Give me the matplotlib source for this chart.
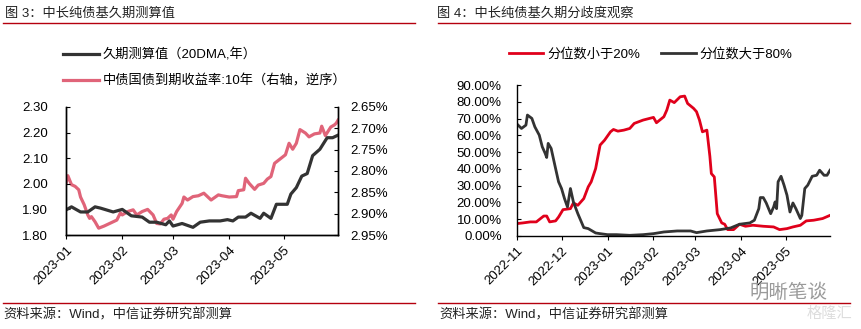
import numpy as np
import pandas as pd
import matplotlib
matplotlib.use("Agg")
import matplotlib.pyplot as plt
import matplotlib.dates as mdates
from matplotlib.lines import Line2D
from matplotlib.ticker import FuncFormatter

plt.rcParams['font.family'] = ['Liberation Sans', 'Noto Sans CJK SC', 'DejaVu Sans']

# ── Data ────────────────────────────────────────────────────
dur_dates = ["2023-01-01", "2023-01-04", "2023-01-09", "2023-01-13", "2023-01-17",
             "2023-01-20", "2023-01-27", "2023-02-01", "2023-02-06", "2023-02-12",
             "2023-02-16", "2023-02-20", "2023-02-25", "2023-02-27", "2023-03-01",
             "2023-03-06", "2023-03-12", "2023-03-16", "2023-03-21", "2023-03-27",
             "2023-03-31", "2023-04-03", "2023-04-06", "2023-04-10", "2023-04-13",
             "2023-04-18", "2023-04-20", "2023-04-24", "2023-04-27", "2023-05-03",
             "2023-05-05", "2023-05-08", "2023-05-11", "2023-05-14", "2023-05-17",
             "2023-05-21", "2023-05-25", "2023-05-28", "2023-05-31"]
dur_vals = [1.898, 1.91, 1.89, 1.89, 1.91, 1.905, 1.89, 1.90, 1.875, 1.87,
            1.85, 1.85, 1.84, 1.855, 1.835, 1.845, 1.83, 1.85, 1.855, 1.855,
            1.86, 1.855, 1.87, 1.87, 1.885, 1.865, 1.885, 1.865, 1.92, 1.92,
            1.96, 1.985, 2.03, 2.04, 2.11, 2.135, 2.18, 2.18, 2.19]

yld_dates = ["2023-01-01", "2023-01-02", "2023-01-04", "2023-01-06", "2023-01-08",
             "2023-01-09", "2023-01-11", "2023-01-13", "2023-01-14", "2023-01-15",
             "2023-01-17", "2023-01-19", "2023-01-22", "2023-01-25", "2023-01-29",
             "2023-01-31", "2023-02-01", "2023-02-04", "2023-02-07", "2023-02-09",
             "2023-02-12", "2023-02-15", "2023-02-18", "2023-02-20", "2023-02-22",
             "2023-02-24", "2023-02-26", "2023-02-28", "2023-03-01", "2023-03-03",
             "2023-03-06", "2023-03-07", "2023-03-09", "2023-03-12", "2023-03-15",
             "2023-03-18", "2023-03-22", "2023-03-26", "2023-03-28", "2023-04-01",
             "2023-04-05", "2023-04-06", "2023-04-09", "2023-04-10", "2023-04-12",
             "2023-04-15", "2023-04-17", "2023-04-20", "2023-04-22", "2023-04-24",
             "2023-04-26", "2023-04-29", "2023-05-02", "2023-05-04", "2023-05-06",
             "2023-05-08", "2023-05-10", "2023-05-13", "2023-05-15", "2023-05-18",
             "2023-05-21", "2023-05-22", "2023-05-24", "2023-05-27", "2023-05-29",
             "2023-05-30", "2023-05-31"]
yld_vals = [2.829, 2.811, 2.832, 2.836, 2.844, 2.861, 2.879, 2.903, 2.911, 2.907,
            2.919, 2.934, 2.929, 2.923, 2.915, 2.898, 2.903, 2.895, 2.891, 2.903,
            2.895, 2.890, 2.903, 2.923, 2.924, 2.913, 2.911, 2.903, 2.913, 2.895,
            2.876, 2.861, 2.868, 2.860, 2.858, 2.852, 2.868, 2.856, 2.858, 2.861,
            2.860, 2.846, 2.844, 2.817, 2.829, 2.843, 2.833, 2.829, 2.819, 2.813,
            2.782, 2.772, 2.762, 2.735, 2.749, 2.735, 2.703, 2.711, 2.720, 2.713,
            2.711, 2.695, 2.717, 2.697, 2.692, 2.688, 2.681]

hi_dates = ["2022-11-01", "2022-11-04", "2022-11-07", "2022-11-08", "2022-11-11",
            "2022-11-13", "2022-11-16", "2022-11-18", "2022-11-20", "2022-11-21",
            "2022-11-22", "2022-11-24", "2022-11-27", "2022-11-29", "2022-12-01",
            "2022-12-03", "2022-12-05", "2022-12-07", "2022-12-09", "2022-12-12",
            "2022-12-16", "2022-12-19", "2022-12-24", "2022-12-27", "2023-01-01",
            "2023-01-07", "2023-01-16", "2023-01-25", "2023-02-01", "2023-02-08",
            "2023-02-17", "2023-02-26", "2023-03-02", "2023-03-09", "2023-03-18",
            "2023-03-25", "2023-03-31", "2023-04-07", "2023-04-10", "2023-04-13",
            "2023-04-14", "2023-04-16", "2023-04-18", "2023-04-21", "2023-04-23",
            "2023-04-24", "2023-04-25", "2023-04-26", "2023-04-28", "2023-04-30",
            "2023-05-02", "2023-05-04", "2023-05-06", "2023-05-08", "2023-05-11",
            "2023-05-12", "2023-05-14", "2023-05-16", "2023-05-19", "2023-05-22",
            "2023-05-24", "2023-05-27", "2023-05-29", "2023-05-31"]
hi_vals = [66.7, 64.1, 66.1, 72.1, 70.1, 65.1, 60.1, 53.2, 49.2, 46.8,
           55.2, 52.2, 40.2, 32.3, 28.3, 22.3, 17.3, 28.3, 20.3, 13.3,
           5.0, 4.4, 1.8, 1.4, 0.8, 0.8, 0.4, 0.8, 1.4, 2.4,
           3.0, 3.0, 2.0, 3.0, 3.8, 4.8, 7.0, 7.8, 9.4, 16.3,
           22.9, 22.9, 19.7, 13.3, 17.3, 20.3, 16.3, 32.3, 35.6, 30.3,
           24.3, 14.3, 19.7, 16.3, 10.4, 12.3, 28.3, 30.3, 35.6, 36.2,
           39.2, 36.2, 36.2, 39.2]

lo_dates = ["2022-11-01", "2022-11-05", "2022-11-10", "2022-11-14", "2022-11-19",
            "2022-11-21", "2022-11-23", "2022-11-27", "2022-11-29", "2022-12-02",
            "2022-12-07", "2022-12-09", "2022-12-12", "2022-12-16", "2022-12-19",
            "2022-12-21", "2022-12-24", "2022-12-27", "2022-12-30", "2023-01-03",
            "2023-01-05", "2023-01-08", "2023-01-12", "2023-01-16", "2023-01-19",
            "2023-01-25", "2023-02-01", "2023-02-03", "2023-02-08", "2023-02-10",
            "2023-02-12", "2023-02-15", "2023-02-19", "2023-02-22", "2023-02-24",
            "2023-02-28", "2023-03-02", "2023-03-04", "2023-03-06", "2023-03-09",
            "2023-03-11", "2023-03-12", "2023-03-14", "2023-03-16", "2023-03-19",
            "2023-03-21", "2023-03-23", "2023-03-27", "2023-03-31", "2023-04-04",
            "2023-04-09", "2023-04-16", "2023-04-23", "2023-04-27", "2023-05-02",
            "2023-05-06", "2023-05-11", "2023-05-15", "2023-05-20", "2023-05-26",
            "2023-05-31"]
lo_vals = [7.4, 7.8, 8.4, 8.4, 11.9, 11.9, 8.4, 9.0, 11.3, 15.7,
           16.3, 19.7, 18.3, 22.3, 29.3, 32.3, 40.2, 54.2, 57.1, 62.1,
           63.5, 62.5, 63.1, 64.1, 67.1, 69.1, 70.7, 67.5, 71.1, 75.1,
           81.0, 79.5, 83.0, 83.4, 79.0, 76.1, 74.1, 69.1, 62.1, 63.1,
           47.6, 37.2, 35.2, 13.3, 7.8, 7.0, 3.8, 3.8, 7.0, 5.8,
           6.4, 5.8, 5.4, 3.8, 4.4, 5.4, 6.4, 9.0, 9.4, 10.4,
           12.3]

BLACK = "#333333"
PINK = "#e06479"
RED = "#e0001b"
DARKRED = "#b5000e"
FS = 9.5

fig = plt.figure(figsize=(8.61, 3.29), dpi=100)

# ── Left: 图3 ────────────────────────────────────────────────
ax1 = fig.add_axes([0.0767, 0.2857, 0.3159, 0.3891])
ax2 = ax1.twinx()
l1, = ax1.plot(pd.to_datetime(dur_dates), dur_vals, color=BLACK, lw=2.3,
               label="久期测算值（20DMA,年）")
l2, = ax2.plot(pd.to_datetime(yld_dates), yld_vals, color=PINK, lw=2.3,
               label="中债国债到期收益率:10年（右轴，逆序）")
ax1.set_zorder(ax2.get_zorder() + 1)
ax1.patch.set_visible(False)

ax1.set_xlim(pd.Timestamp("2023-01-01"), pd.Timestamp("2023-05-31"))
ax1.set_ylim(1.80, 2.30)
ax1.set_yticks(np.arange(1.80, 2.301, 0.10))
ax1.yaxis.set_major_formatter(FuncFormatter(lambda v, p: f"{v:.2f}"))
ax2.set_ylim(2.95, 2.65)
ax2.set_yticks(np.arange(2.65, 2.951, 0.05))
ax2.yaxis.set_major_formatter(FuncFormatter(lambda v, p: f"{v:.2f}%"))

# ── Right: 图4 ───────────────────────────────────────────────
ax3 = fig.add_axes([0.6005, 0.2827, 0.3635, 0.4589])
ax3.plot(pd.to_datetime(lo_dates), np.array(lo_vals) / 100, color=RED, lw=2.0,
         label="分位数小于20%")
ax3.plot(pd.to_datetime(hi_dates), np.array(hi_vals) / 100, color=BLACK, lw=2.0,
         label="分位数大于80%")
ax3.set_xlim(pd.Timestamp("2022-11-01"), pd.Timestamp("2023-05-31"))
ax3.set_ylim(0, 0.9)
ax3.set_yticks(np.arange(0, 0.901, 0.1))
ax3.yaxis.set_major_formatter(FuncFormatter(lambda v, p: f"{v * 100:.2f}%"))

for ax in (ax1, ax2, ax3):
    ax.spines["top"].set_visible(False)
    ax.xaxis.set_major_locator(mdates.MonthLocator())
    ax.xaxis.set_major_formatter(mdates.DateFormatter("%Y-%m"))
    ax.tick_params(axis="y", direction="in", length=3, labelsize=FS, colors="black")
    ax.tick_params(axis="x", direction="out", length=3, labelsize=FS)
    for s in ax.spines.values():
        s.set_linewidth(1.0)
ax1.tick_params(axis="y", pad=13)
ax2.tick_params(axis="y", pad=9)
ax3.tick_params(axis="y", pad=11)
ax3.spines["right"].set_visible(False)

for ax in (ax1, ax3):
    for lab in ax.get_xticklabels():
        lab.set_rotation(45)
        lab.set_ha("right")
        lab.set_rotation_mode("anchor")

# legends
fig.legend(handles=[l1, l2], loc="upper left", bbox_to_anchor=(0.067, 0.868),
           frameon=False, fontsize=FS, handlelength=2.7, handletextpad=0.3,
           labelspacing=0.95, borderaxespad=0)
fig.legend(handles=ax3.get_lines(), loc="upper left", bbox_to_anchor=(0.585, 0.872),
           ncol=2, frameon=False, fontsize=FS, handlelength=2.6, handletextpad=0.3,
           columnspacing=1.6, borderaxespad=0)

# titles, rules, sources
fig.text(0.006, 0.958, "图 3：中长纯债基久期测算值", fontsize=FS, va="center", color="#222222")
fig.text(0.508, 0.958, "图 4：中长纯债基久期分歧度观察", fontsize=FS, va="center", color="#222222")
for x0, x1 in ((0.003, 0.482), (0.509, 0.987)):
    fig.add_artist(Line2D([x0, x1], [0.929, 0.929], color=DARKRED, lw=1.0))
    fig.add_artist(Line2D([x0, x1], [0.079, 0.079], color=DARKRED, lw=1.0))
fig.text(0.004, 0.043, "资料来源：Wind，中信证券研究部测算", fontsize=FS, va="center", color="#222222")
fig.text(0.510, 0.043, "资料来源：Wind，中信证券研究部测算", fontsize=FS, va="center", color="#222222")

# watermark
fig.text(0.870, 0.112, "明晰笔谈", fontsize=14, va="center", color="#9a9a9a")
fig.text(0.937, 0.045, "格隆汇", fontsize=11, va="center", color="#dddddd")

fig.savefig("out.png", dpi=100)
